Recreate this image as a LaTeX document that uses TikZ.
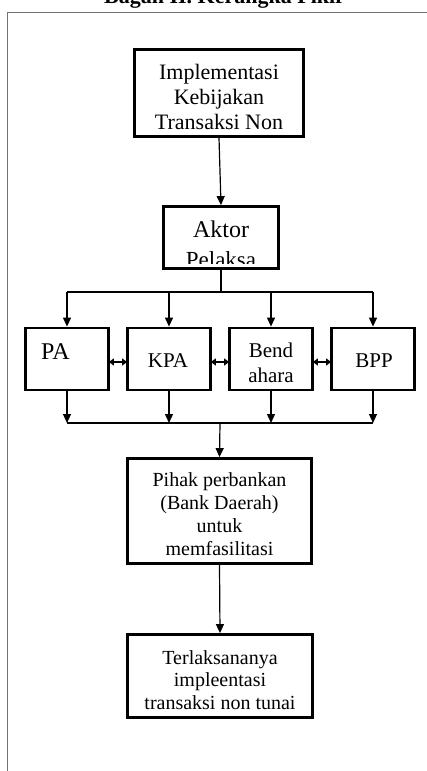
\documentclass[tikz,border=0pt]{standalone}
\usepackage{fontspec}
\setmainfont{Liberation Serif}
\usetikzlibrary{arrows.meta}
\begin{document}
\begin{tikzpicture}[x=1pt,y=-1pt,
  box/.style={draw=black, line width=2.8pt, inner sep=0pt},
  txt/.style={align=center, inner sep=0pt},
  arr/.style={-{Triangle[length=9pt,width=8pt]}, line width=1.2pt},
  ln/.style={line width=1.2pt},
  link/.style={{Triangle[length=5pt,width=7pt]}-{Triangle[length=5pt,width=7pt]}, line width=2.2pt, shorten >=-1pt, shorten <=-1pt}]
\clip (0,0) rectangle (427,771);
\fill[white] (0,0) rectangle (427,771);
% frame
\draw[black!55, line width=1pt] (7.5,771) -- (7.5,12.5) -- (427,12.5);
% title (cut by the top edge)
\node[anchor=base west, font=\bfseries\fontsize{22}{24}\selectfont, inner sep=0pt] (title) at (104,3) {Bagan II. Kerangka Pikir};

% box 1
\node[box, minimum width=169pt, minimum height=87pt] (b1) at (219,93) {};
\node[txt, font=\fontsize{22}{25}\selectfont] (t1) at (219,97) {Implementasi\\Kebijakan\\Transaksi Non};

% box 2 (second line cut by the box)
\node[anchor=base, inner sep=0pt, font=\fontsize{24}{26}\selectfont] (t2a) at (221,237) {Aktor};
\node[anchor=base, inner sep=0pt, font=\fontsize{23}{26}\selectfont] (t2b) at (221,267) {Pelaksa};
\fill[white] (165,263.5) rectangle (277,268.5);
\node[box, minimum width=115pt, minimum height=62pt] (b2) at (221,237.5) {};

% row of four
\node[box, minimum width=83pt, minimum height=62pt] (pa) at (67,359) {};
\node[box, minimum width=83pt, minimum height=62pt] (kpa) at (169,359) {};
\node[box, minimum width=83pt, minimum height=62pt] (bend) at (271,359) {};
\node[box, minimum width=83pt, minimum height=62pt] (bpp) at (373,359) {};
\node[anchor=base west, inner sep=0pt, font=\fontsize{24}{26}\selectfont] (tpa) at (41,359) {PA};
\node[anchor=base, inner sep=0pt, font=\fontsize{21}{24}\selectfont] (tkpa) at (168,367) {KPA};
\node[anchor=base, inner sep=0pt, font=\fontsize{21}{24}\selectfont] (tbend1) at (271,357) {Bend};
\node[anchor=base, inner sep=0pt, font=\fontsize{21}{24}\selectfont] (tbend2) at (271,382) {ahara};
\node[anchor=base, inner sep=0pt, font=\fontsize{21}{24}\selectfont] (tbpp) at (374,367) {BPP};

% box 3
\node[box, minimum width=184pt, minimum height=105pt] (b3) at (219.5,511) {};
\node[txt, font=\fontsize{20}{23}\selectfont] (t3) at (219.5,514) {Pihak perbankan\\(Bank Daerah)\\untuk\\memfasilitasi};

% box 4
\node[box, minimum width=185pt, minimum height=83pt] (b4) at (220,676) {};
\node[txt, font=\fontsize{20}{22.5}\selectfont] (t4) at (220,680) {Terlaksananya\\impleentasi\\transaksi non tunai};

% connectors
\draw[arr] (b1.south) -- (b2.north);
\coordinate (split) at (221,292);
\coordinate (merge) at (220,423);
\draw[ln] (b2.south) -- (split);
\draw[ln] (pa.north |- split) -- (bpp.north |- split);
\draw[arr] (pa.north |- split) -- (pa.north);
\draw[arr] (kpa.north |- split) -- (kpa.north);
\draw[arr] (bend.north |- split) -- (bend.north);
\draw[arr] (bpp.north |- split) -- (bpp.north);
\draw[arr] (pa.south) -- (pa.south |- merge);
\draw[arr] (kpa.south) -- (kpa.south |- merge);
\draw[arr] (bend.south) -- (bend.south |- merge);
\draw[arr] (bpp.south) -- (bpp.south |- merge);
\draw[ln] (pa.south |- merge) -- (bpp.south |- merge);
\draw[arr] (merge) -- (b3.north);
\draw[arr] (b3.south) -- (b4.north);
\draw[link] ([yshift=-3pt]pa.east) -- ([yshift=-3pt]kpa.west);
\draw[link] ([yshift=-3pt]kpa.east) -- ([yshift=-3pt]bend.west);
\draw[link] ([yshift=-3pt]bend.east) -- ([yshift=-3pt]bpp.west);
\end{tikzpicture}
\end{document}
